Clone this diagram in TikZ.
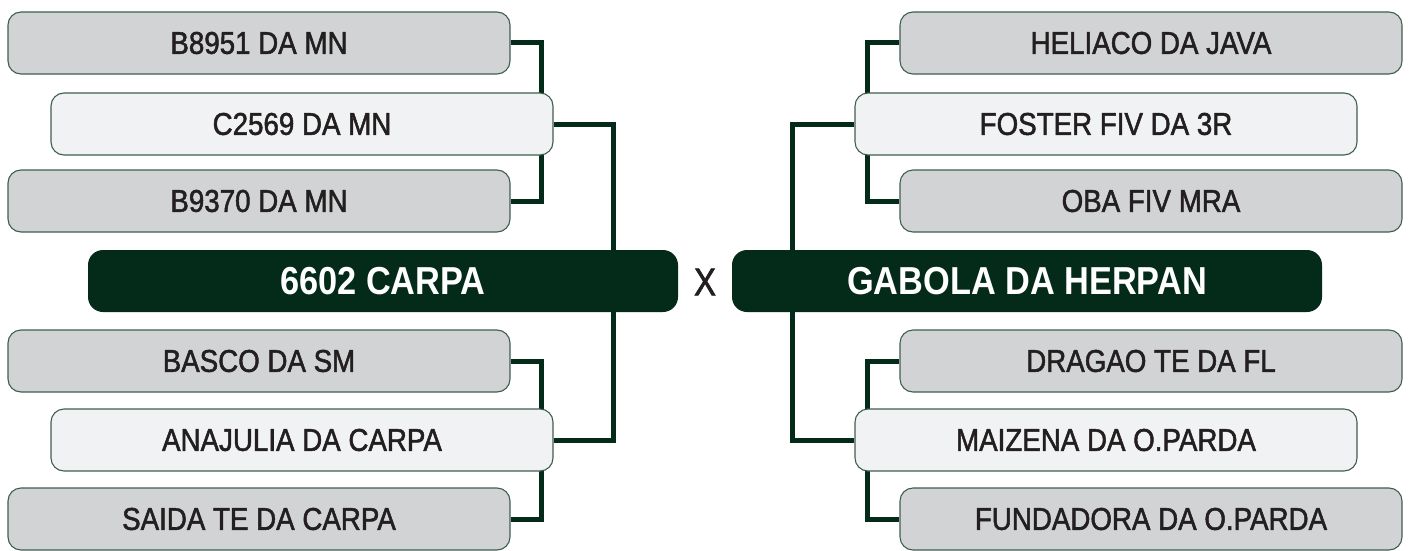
\documentclass[tikz,border=0pt]{standalone}
\usepackage{fontspec}
\setmainfont{Liberation Sans}
\newfontfamily\boxfont[FakeStretch=0.88,FakeBold=1.6]{Liberation Sans}
\newfontfamily\bigfont[FakeStretch=0.88]{Liberation Sans}
\newfontfamily\xfont[FakeStretch=0.85,FakeBold=1.6]{Liberation Sans}
\usetikzlibrary{backgrounds}
\definecolor{dkgreen}{HTML}{042A1A}
\definecolor{edge}{HTML}{3F5E50}
\definecolor{boxgray}{HTML}{D1D3D4}
\definecolor{boxlight}{HTML}{F1F2F3}
\definecolor{txt}{HTML}{231F20}
\tikzset{
  x=1pt, y=-1pt,
  entry/.style={draw=edge, line width=1.1pt, rounded corners=13pt, minimum width=502pt,
    minimum height=62pt, inner sep=0pt, text=txt, font=\boxfont\fontsize{31.5}{31.5}\selectfont},
  outer/.style={entry, fill=boxgray},
  inner/.style={entry, fill=boxlight},
  champ/.style={fill=dkgreen, rounded corners=15pt, minimum width=590pt, minimum height=62pt,
    inner sep=0pt, text=white, font=\bigfont\bfseries\fontsize{39}{39}\selectfont},
  conn/.style={draw=dkgreen, line width=5pt}
}
\begin{document}
\begin{tikzpicture}
\path[use as bounding box] (0,0) rectangle (1410,551);
% left side
\node[outer] (l1) at (259,43) {B8951 DA MN};
\node[inner] (l2) at (302,124) {C2569 DA MN};
\node[outer] (l3) at (259,201) {B9370 DA MN};
\node[champ] (lc) at (383,281) {6602 CARPA};
\node[outer] (l4) at (259,361) {BASCO DA SM};
\node[inner] (l5) at (302,440) {ANAJULIA DA CARPA};
\node[outer] (l6) at (259,519) {SAIDA TE DA CARPA};
% right side
\node[outer] (r1) at (1151,43) {HELIACO DA JAVA};
\node[inner] (r2) at (1106,124) {FOSTER FIV DA 3R};
\node[outer] (r3) at (1151,201) {OBA FIV MRA};
\node[champ] (rc) at (1027,281) {GABOLA DA HERPAN};
\node[outer] (r4) at (1151,361) {DRAGAO TE DA FL};
\node[inner] (r5) at (1106,440) {MAIZENA DA O.PARDA};
\node[outer] (r6) at (1151,519) {FUNDADORA DA O.PARDA};
\node[text=txt, font=\xfont\fontsize{39}{39}\selectfont] (vs) at (705,282) {X};
\begin{pgfonlayer}{background}
\draw[conn] (l1.east) -- ++(31,0) |- (l3.east);
\draw[conn] (l4.east) -- ++(31,0) |- (l6.east);
\draw[conn] (l2.east) -- ++(60,0) |- (l5.east);
\draw[conn] (r1.west) -- ++(-32,0) |- (r3.west);
\draw[conn] (r4.west) -- ++(-32,0) |- (r6.west);
\draw[conn] (r2.west) -- ++(-62,0) |- (r5.west);
\end{pgfonlayer}
\end{tikzpicture}
\end{document}
